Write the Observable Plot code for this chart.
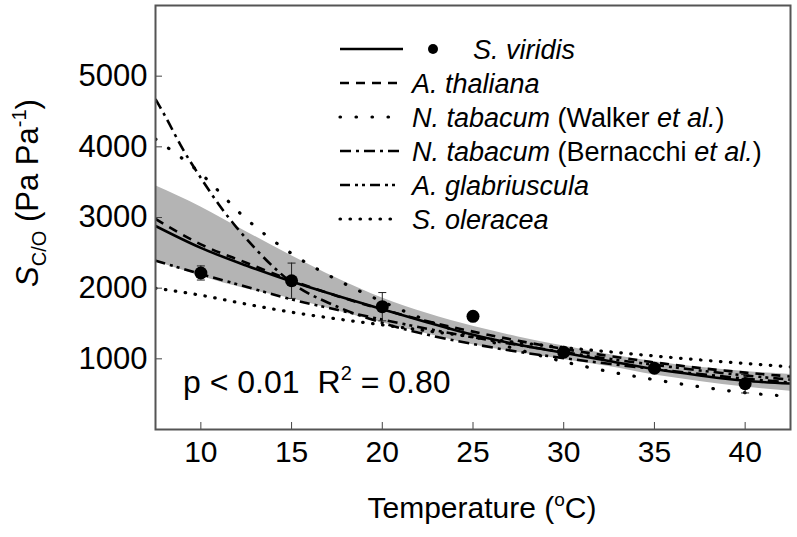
<!DOCTYPE html>
<html><head><meta charset="utf-8">
<script src="https://cdn.jsdelivr.net/npm/d3@7"></script>
<script src="https://cdn.jsdelivr.net/npm/@observablehq/plot@0.6"></script>
<style>body{margin:0;background:#fff} svg{display:block}</style>
</head><body><div id="chart"></div>
<script>
const FONT = "Liberation Sans, Arial, Helvetica, sans-serif";

// Temperature grid (°C)
const temps = [7.5, 10, 12.5, 15, 17.5, 20, 22.5, 25, 27.5, 30, 32.5, 35, 37.5, 40, 42.5];

// S. viridis fit and its confidence band (Pa Pa-1)
const viridisFit   = [2880, 2570, 2320, 2095, 1894, 1700, 1515, 1340, 1200, 1085, 970, 855, 765, 690, 650];
const bandUpper    = [3450, 3150, 2800, 2460, 2140, 1860, 1640, 1460, 1310, 1180, 1060, 960, 880, 820, 780];
const bandLower    = [2380, 2170, 1990, 1850, 1680, 1510, 1350, 1200, 1090, 990, 890, 770, 680, 600, 540];

// Other species' curves
const thaliana     = [2980, 2620, 2360, 2110, 1890, 1700, 1530, 1385, 1255, 1140, 1040, 950, 870, 805, 750];
const tabacumWalker= [4110, 3620, 2980, 2490, 2120, 1810, 1540, 1320, 1130, 960, 820, 705, 605, 520, 468];
const glabriuscula = [2390, 2200, 2020, 1840, 1695, 1555, 1425, 1305, 1195, 1095, 1000, 915, 835, 765, 705];
const oleracea     = [2000, 1900, 1775, 1660, 1565, 1480, 1395, 1310, 1230, 1160, 1100, 1040, 985, 935, 887];

const bernacchiTemps = [7.5, 8, 9, 10, 11, 12, 13, 14, 15, 17.5, 20, 22.5, 25, 27.5, 30, 32.5, 35, 37.5, 40, 42.5];
const tabacumBernacchi = [4675, 4450, 3970, 3560, 3180, 2850, 2560, 2300, 2080, 1740, 1510, 1340, 1210, 1100, 1010, 930, 855, 785, 720, 665];

// S. viridis measurements
const pointTemps  = [10, 15, 20, 25, 30, 35, 40];
const pointValues = [2215, 2105, 1738, 1602, 1093, 867, 647];
const pointErrors = [100, 250, 200, 40, 50, 50, 130];

const xTicks = [10, 15, 20, 25, 30, 35, 40];
const yTicks = [1000, 2000, 3000, 4000, 5000];

const legendLabels = [
  [["S. viridis", true]],
  [["A. thaliana", true]],
  [["N. tabacum", true], [" (Walker ", false], ["et al.", true], [")", false]],
  [["N. tabacum", true], [" (Bernacchi ", false], ["et al.", true], [")", false]],
  [["A. glabriuscula", true]],
  [["S. oleracea", true]]
];

const styles = {
  viridis:   {dash: null,            width: 2.6, cap: "butt"},
  thaliana:  {dash: "9,7",           width: 2.6, cap: "butt"},
  walker:    {dash: "0.5,15.5",      width: 3.2, cap: "round"},
  bernacchi: {dash: "11,5,3,5",      width: 2.6, cap: "butt"},
  glab:      {dash: "10,5,3,4,3,5",  width: 2.6, cap: "butt"},
  oleracea:  {dash: "0.5,9.5",       width: 3.2, cap: "round"}
};

const series = (ts, vs) => ts.map((t, i) => ({t, v: vs[i]}));
const band = temps.map((t, i) => ({t, lo: bandLower[i], hi: bandUpper[i]}));
const pts = pointTemps.map((t, i) => ({t, v: pointValues[i], e: pointErrors[i]}));

const line = (data, st) => Plot.lineY(data, {x: "t", y: "v", stroke: "black", strokeWidth: st.width,
  strokeDasharray: st.dash, strokeLinecap: st.cap, curve: "monotone-x", clip: true});

const plot = Plot.plot({
  width: 797, height: 537,
  marginLeft: 155, marginRight: 7, marginTop: 5, marginBottom: 108,
  style: {fontFamily: FONT, background: "white", color: "black"},
  x: {domain: [7.5, 42.5]},
  y: {domain: [0, 6000]},
  marks: [
    Plot.areaY(band, {x: "t", y1: "lo", y2: "hi", fill: "#b4b4b4", curve: "monotone-x"}),
    line(series(temps, oleracea), styles.oleracea),
    line(series(temps, glabriuscula), styles.glab),
    line(series(bernacchiTemps, tabacumBernacchi), styles.bernacchi),
    line(series(temps, tabacumWalker), styles.walker),
    line(series(temps, thaliana), styles.thaliana),
    line(series(temps, viridisFit), styles.viridis),
    Plot.ruleX(pts, {x: "t", y1: d => d.v - d.e, y2: d => d.v + d.e, stroke: "#222", strokeWidth: 1}),
    Plot.link(pts, {x1: d => d.t - 0.22, x2: d => d.t + 0.22, y1: d => d.v + d.e, y2: d => d.v + d.e, stroke: "#222", strokeWidth: 1}),
    Plot.link(pts, {x1: d => d.t - 0.22, x2: d => d.t + 0.22, y1: d => d.v - d.e, y2: d => d.v - d.e, stroke: "#222", strokeWidth: 1}),
    Plot.dot(pts, {x: "t", y: "v", r: 6.5, fill: "black"}),
    Plot.axisX(xTicks, {anchor: "bottom", tickSize: -7, tickPadding: 18, fontSize: 30, label: null, stroke: "#444", tickFormat: d => String(d)}),
    Plot.axisY(yTicks, {anchor: "left", tickSize: -7, tickPadding: 15, fontSize: 31, label: null, stroke: "#444", tickFormat: d => String(d)}),
    Plot.frame({stroke: "#555", strokeWidth: 2})
  ]
});

document.getElementById("chart").appendChild(plot);
const svg = d3.select(plot);

// Y axis title
const yl = svg.append("text")
  .attr("transform", "translate(38,193) rotate(-90)")
  .attr("text-anchor", "middle").attr("font-family", FONT).attr("font-size", 31).attr("fill", "black");
yl.append("tspan").attr("font-style", "italic").text("S");
yl.append("tspan").attr("font-size", 20).attr("dy", 8).text("C/O");
yl.append("tspan").attr("dy", -8).text(" (Pa Pa");
yl.append("tspan").attr("font-size", 20).attr("dy", -12).text("-1");
yl.append("tspan").attr("dy", 12).text(")");

// X axis title
const xl = svg.append("text")
  .attr("x", 482).attr("y", 518)
  .attr("text-anchor", "middle").attr("font-family", FONT).attr("font-size", 30).attr("fill", "black");
xl.append("tspan").text("Temperature (");
xl.append("tspan").attr("font-size", 19).attr("dy", -12).text("o");
xl.append("tspan").attr("dy", 12).text("C)");

// Statistics annotation
const an = svg.append("text").attr("x", 183).attr("y", 393).attr("text-anchor", "start")
  .attr("font-family", FONT).attr("font-size", 32).attr("fill", "black");
an.append("tspan").text("p < 0.01");
an.append("tspan").attr("dx", 18).text("R");
an.append("tspan").attr("font-size", 20).attr("dy", -13).text("2");
an.append("tspan").attr("dy", 13).text(" = 0.80");

// Legend
const lg = svg.append("g").attr("font-family", FONT).attr("font-size", 27).attr("text-anchor", "start");
const styleList = [styles.viridis, styles.thaliana, styles.walker, styles.bernacchi, styles.glab, styles.oleracea];
legendLabels.forEach((parts, i) => {
  const cy = 49 + i * 34;
  const st = styleList[i];
  lg.append("line").attr("x1", 340).attr("x2", i === 0 ? 403 : 400).attr("y1", cy).attr("y2", cy)
    .attr("stroke", "black").attr("stroke-width", st.width)
    .attr("stroke-linecap", st.cap)
    .attr("stroke-dasharray", st.dash);
  if (i === 0) lg.append("circle").attr("cx", 433).attr("cy", cy).attr("r", 5).attr("fill", "black");
  const t = lg.append("text").attr("x", i === 0 ? 473 : 412).attr("y", cy + 9.5).attr("fill", "black")
    .attr("text-anchor", "start").style("white-space", "pre");
  parts.forEach(([s, it]) => t.append("tspan").attr("font-style", it ? "italic" : "normal").text(s));
});
</script>
</body></html>
